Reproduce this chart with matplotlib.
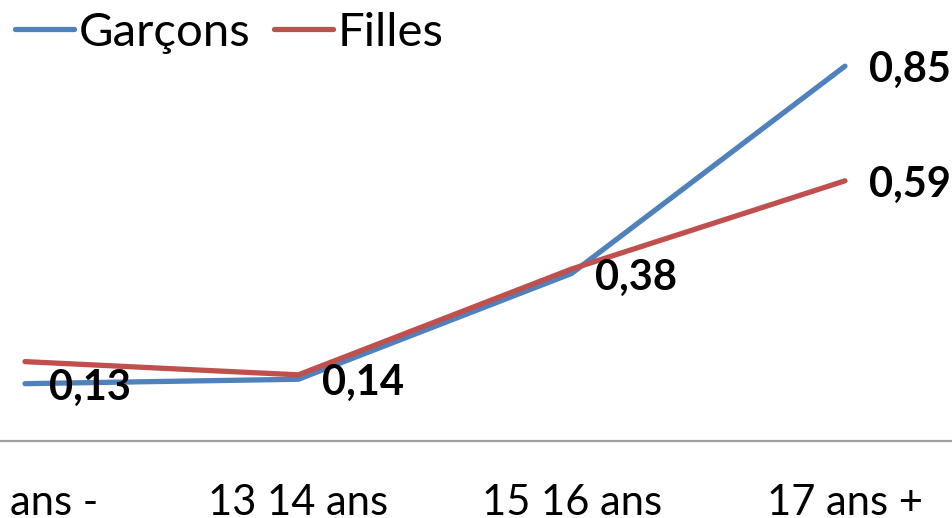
import matplotlib.pyplot as plt

plt.rcParams["font.family"] = ["Lato", "DejaVu Sans"]

categories = ["12 ans -", "13 14 ans", "15 16 ans", "17 ans +"]
garcons = [0.13, 0.14, 0.38, 0.85]
filles = [0.18, 0.15, 0.39, 0.59]
garcons_labels = ["0,13", "0,14", "0,38", "0,85"]
filles_labels = ["", "", "", "0,59"]

blue = "#4F81BD"
red = "#C0504D"

fig = plt.figure(figsize=(9.52, 5.18), dpi=100)
ax = fig.add_axes([0, 1 - 441 / 518, 1, 441 / 518])

x = list(range(len(categories)))
ax.plot(x, garcons, color=blue, lw=3.8, solid_capstyle="round", solid_joinstyle="round", label="Garçons")
ax.plot(x, filles, color=red, lw=3.8, solid_capstyle="round", solid_joinstyle="round", label="Filles")

for xi, v, t in zip(x, garcons, garcons_labels):
    if t:
        ax.annotate(t, (xi, v), xytext=(17, -3), textcoords="offset points",
                    ha="left", va="center", fontsize=30, fontweight="bold")
for xi, v, t in zip(x, filles, filles_labels):
    if t:
        ax.annotate(t, (xi, v), xytext=(17, -3), textcoords="offset points",
                    ha="left", va="center", fontsize=30, fontweight="bold")

ax.set_xlim(-25 / 273.3, 3 + (952 - 845) / 273.3)
ax.set_ylim(0, 1)
ax.set_xticks(x)
ax.set_xticklabels(categories, fontsize=30)
ax.tick_params(axis="x", length=0, pad=31)
ax.set_yticks([])
for s in ["top", "left", "right"]:
    ax.spines[s].set_visible(False)
ax.spines["bottom"].set_color("#A0A0A0")
ax.spines["bottom"].set_linewidth(1.6)

ax.legend(loc="upper left", ncol=2, frameon=False, fontsize=34,
          handlelength=1.25, handletextpad=0.1, columnspacing=0.5,
          borderpad=0, borderaxespad=0, bbox_to_anchor=(15 / 952, 1 - 12 / 441))

fig.savefig("out.png", dpi=100)
